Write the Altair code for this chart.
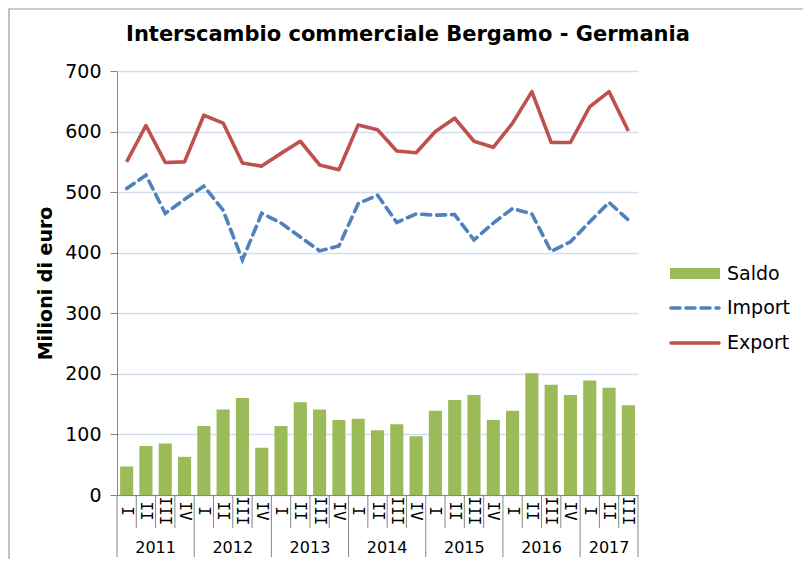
import altair as alt
import pandas as pd

# ---- data ----
years = ["2011", "2012", "2013", "2014", "2015", "2016", "2017"]
quarters_per_year = [4, 4, 4, 4, 4, 4, 3]
quarter_names = ["I", "II", "III", "IV"]
saldo = [47, 81, 85, 63, 114, 141, 160, 78, 114, 153, 141, 124,
         126, 107, 117, 97, 139, 157, 165, 124, 139, 201, 182, 165,
         189, 177, 148]
export = [550, 610, 549, 550, 627, 614, 548, 543, 564, 584, 545, 537,
          611, 603, 568, 565, 600, 622, 584, 574, 614, 666, 582, 582,
          641, 666, 601]
imports = [506, 528, 465, 488, 510, 470, 388, 465, 449, 426, 403, 411,
           481, 495, 450, 464, 462, 463, 421, 449, 473, 464, 402, 418,
           451, 483, 454]
series_names = ["Saldo", "Import", "Export"]
colors = ["#9BBB59", "#4F81BD", "#C0504D"]
title_text = "Interscambio commerciale Bergamo - Germania"

W, H = 521, 424
FONT = "DejaVu Sans"

# ---- tables ----
rows = []
i = 0
for y, n in zip(years, quarters_per_year):
    for q in range(n):
        rows.append({"idx": i, "year": y, "q": quarter_names[q],
                     "x0": i + 0.16, "x1": i + 0.84, "mid": i + 0.5,
                     "saldo": saldo[i], "imp": imports[i], "exp": export[i]})
        i += 1
df = pd.DataFrame(rows)
N = len(df)

year_rows = []
start = 0
for y, n in zip(years, quarters_per_year):
    year_rows.append({"year": y, "mid": start + n / 2, "start": start})
    start += n
dfy = pd.DataFrame(year_rows)
year_bounds = list(dfy["start"]) + [N]
df_ysep = pd.DataFrame({"pos": year_bounds})
df_qsep = pd.DataFrame({"pos": [k for k in range(N + 1) if k not in year_bounds]})

xscale = alt.Scale(domain=[0, N], nice=False, zero=False)
yscale = alt.Scale(domain=[0, 700], nice=False)

bars = alt.Chart(df).mark_bar(color=colors[0]).encode(
    x=alt.X("x0:Q", scale=xscale,
            axis=alt.Axis(labels=False, ticks=False, grid=False, title=None,
                          domainColor="#868686", domainWidth=1)),
    x2="x1:Q",
    y=alt.Y("saldo:Q", scale=yscale,
            axis=alt.Axis(values=list(range(0, 701, 100)), title="Milioni di euro",
                          titleFont=FONT, titleFontSize=19, titleFontWeight="bold",
                          titleColor="#000000", titlePadding=9,
                          labelFont=FONT, labelFontSize=19, labelColor="#000000",
                          labelPadding=9, tickSize=7, tickColor="#868686",
                          domainColor="#868686", gridColor="#D4DDF0",
                          gridWidth=1.3)),
    y2=alt.datum(0),
)

line_imp = alt.Chart(df).mark_line(color=colors[1], strokeWidth=3.6,
                                   strokeDash=[9, 6], strokeCap="round").encode(
    x=alt.X("mid:Q", scale=xscale), y=alt.Y("imp:Q", scale=yscale))
line_exp = alt.Chart(df).mark_line(color=colors[2], strokeWidth=3.6,
                                   strokeJoin="round").encode(
    x=alt.X("mid:Q", scale=xscale), y=alt.Y("exp:Q", scale=yscale))

qsep = alt.Chart(df_qsep).mark_rule(color="#868686", strokeWidth=1).encode(
    x=alt.X("pos:Q", scale=xscale), y=alt.value(H), y2=alt.value(H + 33))
ysep = alt.Chart(df_ysep).mark_rule(color="#868686", strokeWidth=1).encode(
    x=alt.X("pos:Q", scale=xscale), y=alt.value(H), y2=alt.value(H + 62))

qlabels = alt.Chart(df).mark_text(font="DejaVu Sans Mono", fontSize=16, angle=90,
                                  align="center", baseline="middle",
                                  color="#000000").encode(
    x=alt.X("mid:Q", scale=xscale), y=alt.value(H + 16), text="q:N")
ylabels = alt.Chart(dfy).mark_text(font=FONT, fontSize=16, align="center",
                                   baseline="middle", color="#000000").encode(
    x=alt.X("mid:Q", scale=xscale), y=alt.value(H + 53), text="year:N")

# ---- legend (manual) ----
leg = pd.DataFrame({"name": series_names, "ypix": [202.5, 237, 272]})
leg_rect = alt.Chart(leg.iloc[[0]]).mark_rect(color=colors[0]).encode(
    x=alt.value(553), x2=alt.value(603), y=alt.value(197), y2=alt.value(208))
leg_imp = alt.Chart(leg.iloc[[1]]).mark_rule(color=colors[1], strokeWidth=3.6,
                                             strokeDash=[9, 6], strokeCap="round").encode(
    x=alt.value(554), x2=alt.value(602), y=alt.value(237))
leg_exp = alt.Chart(leg.iloc[[2]]).mark_rule(color=colors[2], strokeWidth=3.6,
                                             strokeCap="round").encode(
    x=alt.value(554), x2=alt.value(602), y=alt.value(272))
leg_text = alt.Chart(leg).mark_text(font=FONT, fontSize=19, align="left",
                                    baseline="middle", color="#000000").encode(
    x=alt.value(610), y=alt.Y("ypix:Q", scale=None), text="name:N")

# ---- title (as text) and frame ----
title = alt.Chart(pd.DataFrame({"t": [title_text]})).mark_text(
    font=FONT, fontSize=21, fontWeight="bold", align="center",
    baseline="middle", color="#000000").encode(
    x=alt.value(291), y=alt.value(-36), text="t:N")

border = alt.Chart(pd.DataFrame({"a": [0]})).mark_rect(
    fill=None, stroke="#9a9a9a", strokeWidth=1.2).encode(
    x=alt.value(-108), x2=alt.value(720), y=alt.value(-62), y2=alt.value(560))

chart = alt.layer(
    border, bars, line_imp, line_exp, qsep, ysep, qlabels, ylabels,
    leg_rect, leg_imp, leg_exp, leg_text, title
).properties(
    width=W, height=H,
    autosize=alt.AutoSizeParams(type="none"),
    padding={"left": 109, "top": 63, "right": 165, "bottom": 64},
).configure_view(stroke=None)

chart.save("out.html", embed_options={"renderer": "svg", "actions": False})
